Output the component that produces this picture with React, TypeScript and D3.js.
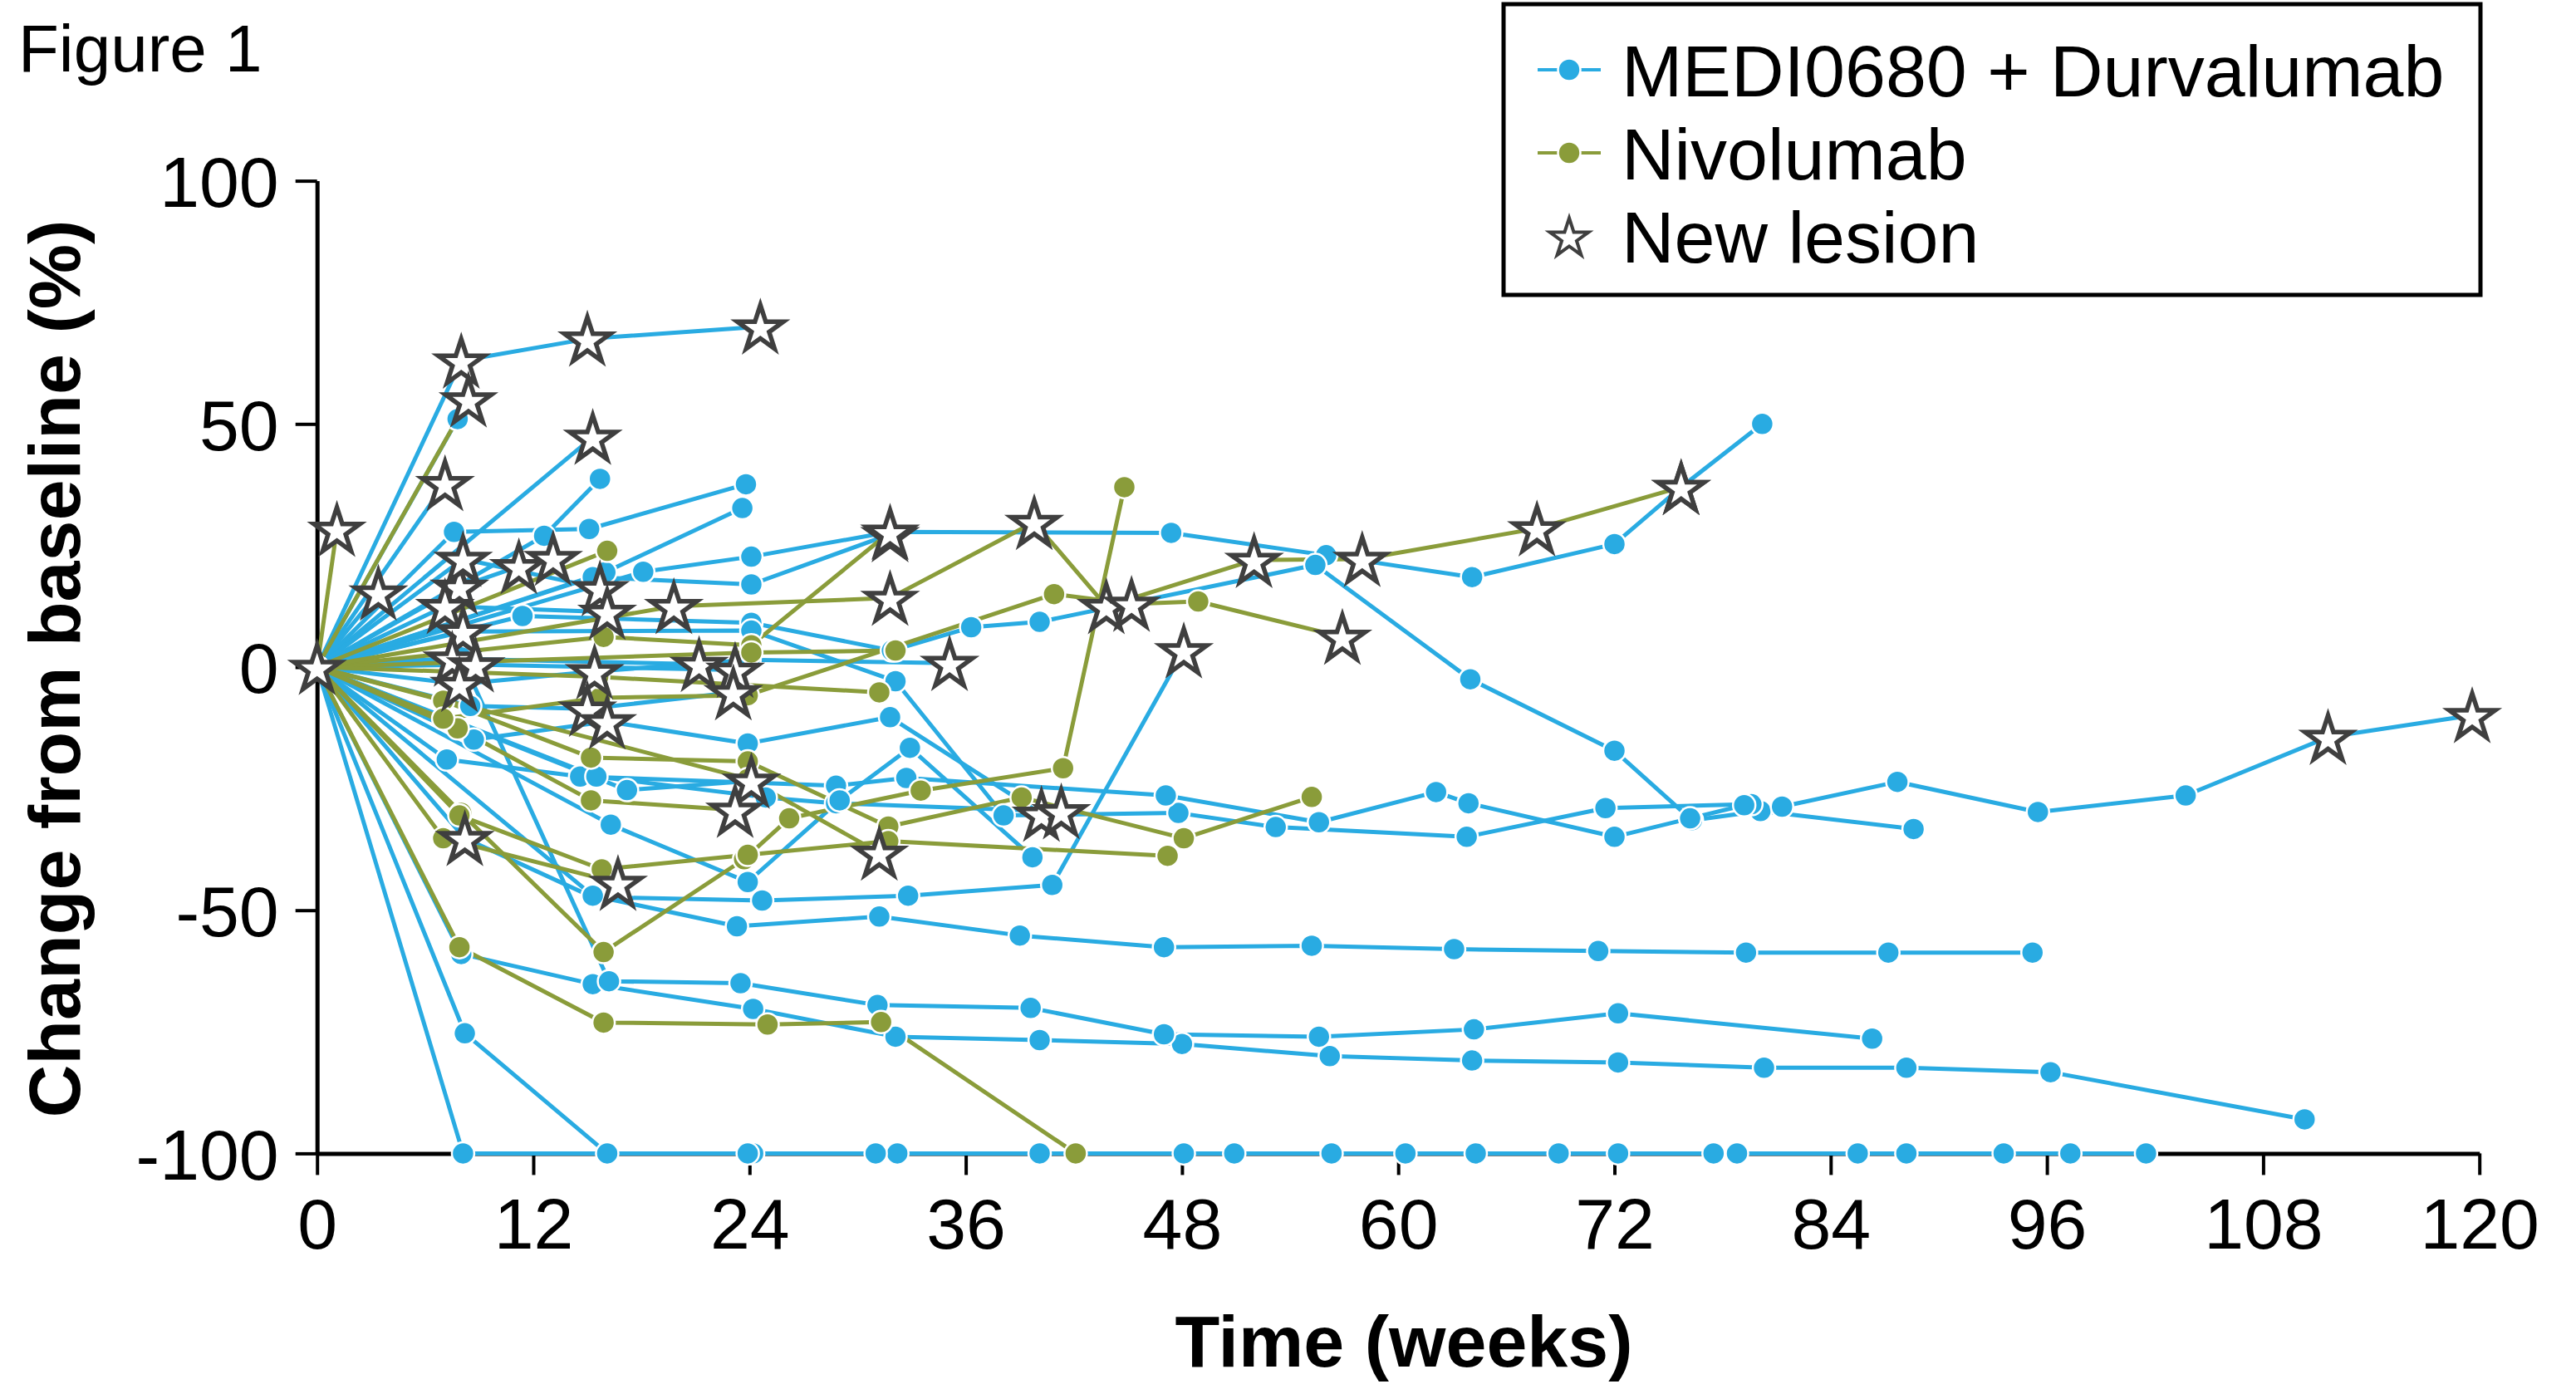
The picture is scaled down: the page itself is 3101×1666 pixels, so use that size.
import React, { useEffect, useRef } from 'react'
import * as d3 from 'd3'

// [week, % change, new lesion (1) ]
type Pt = [number, number, number?]

const weekTicks = [0, 12, 24, 36, 48, 60, 72, 84, 96, 108, 120]
const pctTicks = [-100, -50, 0, 50, 100]
const legendLabels = ['MEDI0680 + Durvalumab', 'Nivolumab', 'New lesion']

// MEDI0680 + Durvalumab patients
const mediPatients: Pt[][] = [
  [[0, 0], [8, 63, 1], [15, 67.5, 1], [24.6, 70, 1]],
  [[0, 0], [7.8, 51]],
  [[0, 0], [15.3, 47.3, 1]],
  [[0, 0], [7.1, 37.8, 1]],
  [[0, 0], [7.6, 27.8], [15.1, 28.4], [23.8, 37.6]],
  [[0, 0], [12.6, 27], [15.7, 38.7]],
  [[0, 0], [16, 19.5], [23.6, 32.7]],
  [[0, 0], [18.1, 19.6], [24.1, 22.7], [31.8, 27.8], [47.4, 27.6], [56, 23], [64.1, 18.5], [72, 25.3], [75.7, 37, 1], [80.2, 50]],
  [[0, 0], [15.3, 18.5], [24.1, 17], [31.8, 27.3, 1]],
  [[0, 0], [3.4, 15.3, 1]],
  [[0, 0], [7.9, 16.5, 1], [11.2, 20.7, 1], [13.1, 22.4, 1]],
  [[0, 0], [8.1, 22.2, 1], [15.7, 16.2, 1]],
  [[0, 0], [7.1, 12.5, 1], [16.1, 11.3, 1]],
  [[0, 0], [11.4, 10.5], [24.1, 9.1], [31.9, 3.4], [36.3, 8.2], [40.1, 9.3], [55.4, 21], [64, -2.5], [72, -17.2], [76.3, -31.5], [80.1, -29.6], [88.6, -33.3]],
  [[0, 0], [8.1, 7.3, 1], [24.1, 7.5], [32.1, -2.9], [38.1, -30.5], [47.8, -30], [53.2, -32.9], [63.8, -34.9], [71.5, -29], [79.6, -28.2], [81.3, -28.7], [87.7, -23.6], [95.5, -29.8], [103.7, -26.4], [111.6, -14.4, 1], [119.6, -9.9, 1]],
  [[0, 0], [7.5, 1.7, 1], [21.2, 0.6, 1]],
  [[0, 0], [8.8, 0.5, 1], [23.2, -0.6, 1]],
  [[0, 0], [7.9, -3.5, 1], [15.4, -0.9, 1], [24, 1.5], [35.1, 0.8, 1]],
  [[0, 0], [8.5, -8], [15, -8.6, 1], [23.1, -5.2, 1]],
  [[0, 0], [8.7, -14.9], [16.1, -11.2, 1], [23.9, -15.7], [31.8, -10.3], [40.2, -30.2, 1]],
  [[0, 0], [7.2, -19], [14.6, -22.5], [28.8, -24.4], [32.7, -22.8], [47.1, -26.4], [55.6, -31.9], [62.1, -25.7], [63.9, -28], [72, -34.9], [76.2, -31.1], [79.2, -28.4]],
  [[0, 0], [15.5, -22.5], [24.9, -26.8], [28.8, -28], [41.3, -29.7, 1]],
  [[0, 0], [16.3, -32.4], [23.9, -44.2], [29, -27.4], [32.9, -16.6], [39.7, -39.1]],
  [[0, 0], [17.2, -25.3], [24.1, -23.4, 1]],
  [[0, 0], [8.2, -35.2, 1], [15.3, -47.3], [24.7, -48], [32.8, -47], [40.8, -44.8], [48.1, 3.4, 1]],
  [[0, 0], [15.3, -47], [23.3, -53.3], [31.2, -51.3], [39, -55.2], [47, -57.6], [55.2, -57.3], [63.1, -58], [71.1, -58.4], [79.3, -58.7], [87.2, -58.7], [95.2, -58.7]],
  [[0, 0], [8, -59], [15.3, -65.2], [24.2, -70.3], [32.1, -76], [40.1, -76.7], [48, -77.5], [56.2, -80], [64.1, -80.9], [72.2, -81.3], [80.3, -82.4], [88.2, -82.4], [96.2, -83.3], [110.3, -93]],
  [[0, 0], [8, 2], [16.2, -64.6], [23.5, -65], [31.1, -69.5], [39.6, -70.1], [47, -75.5], [55.6, -76], [64.2, -74.5], [72.2, -71.2], [86.3, -76.4]],
  [[0, 0], [8.2, -75.3], [16.1, -100], [24.2, -100], [32.2, -100], [50.9, -100], [60.4, -100], [68.9, -100], [78.8, -100], [85.5, -100], [88.2, -100], [93.6, -100], [97.3, -100], [101.5, -100]],
  [[0, 0], [8.1, -100], [23.9, -100], [31, -100], [40.1, -100], [48.1, -100], [56.3, -100], [64.3, -100], [72.2, -100], [77.5, -100]],
]

// Nivolumab patients
const nivoPatients: Pt[][] = [
  [[0, 0], [1.1, 28.4, 1]],
  [[0, 0], [8.4, 55, 1]],
  [[0, 0], [7.9, -57.6], [15.9, -73.1], [25, -73.5], [31.3, -73], [42.1, -100]],
  [[0, 0], [8, -30], [15.9, -58.6], [23.7, -39.5], [26.2, -31.1], [33.5, -25.4], [41.4, -20.8], [44.8, 37]],
  [[0, 0], [7, -35.2], [16.7, -44.4, 1]],
  [[0, 0], [7.8, -12.6], [15.2, -27.4], [23.2, -29.4, 1]],
  [[0, 0], [7, -6.9], [15.2, -18.6], [23.9, -19.4], [31.7, -32.8], [39.1, -26.8], [48.1, -35.2], [55.2, -26.7]],
  [[0, 0], [16.1, 23.9]],
  [[0, 0], [15.9, 6.2], [24.1, 4.5], [31.8, 27.8, 1]],
  [[0, 0], [19.8, 12.5, 1], [31.8, 14.2, 1], [39.8, 29.8, 1], [43.8, 12.5, 1], [52, 22, 1], [58, 22.2, 1], [67.7, 28.5, 1], [75.7, 37, 1]],
  [[0, 0], [7, -10.6], [15.7, -6.3], [23.9, -5.8], [40.9, 15], [45.2, 13, 1], [48.9, 13.5], [56.9, 6.2, 1]],
  [[0, 0], [7.9, -30.5], [15.8, -41.6], [23.9, -38.6], [31.7, -35.8], [47.2, -38.8]],
  [[0, 0], [24.1, 3], [32.1, 3.4]],
  [[0, 0, 1], [15.6, -2], [31.2, -5.2]],
  [[0, 0], [23.9, -23], [31.2, -38.2, 1]],
]

const BLUE = '#29abe2'
const GREEN = '#8a9c3a'
const STAR = '#3f3f3f'
const FONT = '"Liberation Sans", Arial, Helvetica, sans-serif'

const W = 3101
const H = 1666

export default function App() {
  const ref = useRef<SVGSVGElement>(null)

  useEffect(() => {
    const svg = d3.select(ref.current)
    svg.selectAll('*').remove()

    const x = d3.scaleLinear().domain([0, 120]).range([381.7, 2984.7])
    const y = d3.scaleLinear().domain([-100, 100]).range([1388.4, 217.6])

    // axes
    const xAxis = svg
      .append('g')
      .attr('transform', `translate(0,${y(-100)})`)
      .call(d3.axisBottom(x).tickValues(weekTicks).tickSize(26).tickSizeOuter(0).tickPadding(28))
    const yAxis = svg
      .append('g')
      .attr('transform', `translate(${x(0)},0)`)
      .call(
        d3
          .axisLeft(y)
          .tickValues(pctTicks)
          .tickFormat((d) => String(d))
          .tickSize(26)
          .tickSizeOuter(0)
          .tickPadding(20)
      )
    ;[xAxis, yAxis].forEach((g) => {
      g.select('.domain').attr('stroke', '#000').attr('stroke-width', 5)
      g.selectAll('.tick line').attr('stroke', '#000').attr('stroke-width', 4)
      g.selectAll('.tick text')
        .attr('fill', '#000')
        .style('font-family', FONT)
        .style('font-size', '86px')
    })
    yAxis.selectAll('.tick text').attr('dy', '0.36em')

    const line = d3
      .line<Pt>()
      .x((d) => x(d[0]))
      .y((d) => y(d[1]))

    const groups = [
      { data: mediPatients, color: BLUE },
      { data: nivoPatients, color: GREEN },
    ]

    groups.forEach(({ data, color }) => {
      svg
        .append('g')
        .selectAll('path')
        .data(data)
        .join('path')
        .attr('d', line)
        .attr('fill', 'none')
        .attr('stroke', color)
        .attr('stroke-width', 5)
        .attr('stroke-linejoin', 'round')
    })

    groups.forEach(({ data, color }) => {
      svg
        .append('g')
        .selectAll('circle')
        .data(data.flat().filter((d) => !d[2]))
        .join('circle')
        .attr('cx', (d) => x(d[0]))
        .attr('cy', (d) => y(d[1]))
        .attr('r', 13.5)
        .attr('fill', color)
        .attr('stroke', '#fff')
        .attr('stroke-width', 2.5)
    })

    const star = d3.symbol().type(d3.symbolStar).size(950)
    const stars = [...mediPatients, ...nivoPatients].flat().filter((d) => d[2])
    svg
      .append('g')
      .selectAll('path')
      .data(stars)
      .join('path')
      .attr('d', star)
      .attr('transform', (d) => `translate(${x(d[0])},${y(d[1]) + 3})`)
      .attr('fill', '#fff')
      .attr('stroke', STAR)
      .attr('stroke-width', 5.5)
      .attr('stroke-linejoin', 'miter')

    // axis titles
    svg
      .append('text')
      .attr('x', 1690)
      .attr('y', 1645)
      .attr('text-anchor', 'middle')
      .style('font-family', FONT)
      .style('font-weight', 'bold')
      .style('font-size', '88px')
      .text('Time (weeks)')
    svg
      .append('text')
      .attr('transform', 'translate(96,805) rotate(-90)')
      .attr('text-anchor', 'middle')
      .style('font-family', FONT)
      .style('font-weight', 'bold')
      .style('font-size', '88px')
      .text('Change from baseline (%)')
    svg
      .append('text')
      .attr('x', 22)
      .attr('y', 86)
      .style('font-family', FONT)
      .style('font-size', '80px')
      .text('Figure 1')

    // legend
    const legend = svg.append('g')
    legend
      .append('rect')
      .attr('x', 1810)
      .attr('y', 5)
      .attr('width', 1176)
      .attr('height', 350)
      .attr('fill', '#fff')
      .attr('stroke', '#000')
      .attr('stroke-width', 5)
    const rowY = [84, 184, 284]
    const items = legend
      .selectAll('g')
      .data(legendLabels)
      .join('g')
      .attr('transform', (_, i) => `translate(1889,${rowY[i]})`)
    items
      .filter((_, i) => i < 2)
      .append('line')
      .attr('x1', -38)
      .attr('x2', 38)
      .attr('stroke', (_, i) => (i === 0 ? BLUE : GREEN))
      .attr('stroke-width', 4)
    items
      .filter((_, i) => i < 2)
      .append('circle')
      .attr('r', 13.5)
      .attr('fill', (_, i) => (i === 0 ? BLUE : GREEN))
      .attr('stroke', '#fff')
      .attr('stroke-width', 2.5)
    items
      .filter((_, i) => i === 2)
      .append('path')
      .attr('d', d3.symbol().type(d3.symbolStar).size(680)())
      .attr('transform', 'translate(0,3)')
      .attr('fill', '#fff')
      .attr('stroke', STAR)
      .attr('stroke-width', 4)
    items
      .append('text')
      .attr('x', 63)
      .attr('dy', '0.36em')
      .style('font-family', FONT)
      .style('font-size', '88px')
      .text((d) => d)
  }, [])

  return (
    <svg
      ref={ref}
      width={W}
      height={H}
      style={{ position: 'absolute', left: 0, top: 0, background: '#fff' }}
    />
  )
}
